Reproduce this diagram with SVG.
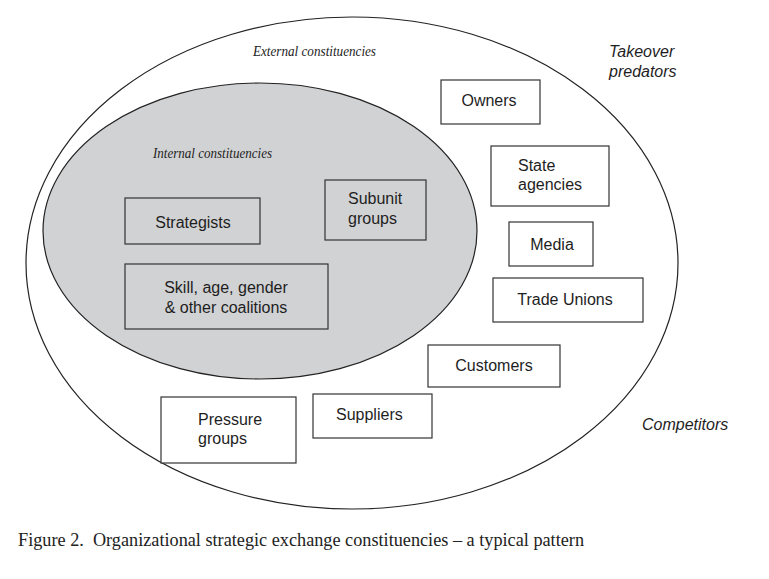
<svg xmlns="http://www.w3.org/2000/svg" width="769" height="579" viewBox="0 0 769 579">
<style>
.box{fill:#fff;stroke:#333;stroke-width:1.2}
.ibox{fill:#d1d2d4;stroke:#333;stroke-width:1.2}
.lbl{font-family:"Liberation Sans",Arial,sans-serif;font-size:16px;fill:#1e1e1e}
.c{text-anchor:middle}
.ital{font-family:"Liberation Sans",Arial,sans-serif;font-size:16px;font-style:italic;fill:#1e1e1e}
.serif{font-family:"Liberation Serif","Times New Roman",serif;font-style:italic;font-size:14px;fill:#222}
.cap{font-family:"Liberation Serif","Times New Roman",serif;font-size:18px;fill:#222}
</style>
<rect width="769" height="579" fill="#fff"/>
<g id="external">
<ellipse cx="352" cy="263" rx="326" ry="246" fill="#fff" stroke="#222" stroke-width="1.2"/>
<text class="serif" x="253" y="56" textLength="123" lengthAdjust="spacingAndGlyphs">External constituencies</text>
</g>
<g id="internal">
<ellipse cx="260" cy="231" rx="217" ry="148" fill="#d1d2d4" stroke="#222" stroke-width="1.2"/>
<text class="serif" x="153" y="158" textLength="119" lengthAdjust="spacingAndGlyphs">Internal constituencies</text>
</g>
<g id="strategists"><rect class="ibox" x="125" y="198" width="135" height="46"/><text class="lbl c" x="193" y="228">Strategists</text></g>
<g id="skill"><rect class="ibox" x="125" y="264" width="203" height="65"/><text class="lbl c" x="226" y="293">Skill, age, gender</text><text class="lbl c" x="226" y="313">&amp; other coalitions</text></g>
<g id="subunit"><rect class="ibox" x="325" y="180" width="101" height="60"/><text class="lbl" x="348" y="204">Subunit</text><text class="lbl" x="348" y="224">groups</text></g>
<g id="owners"><rect class="box" x="441" y="80" width="99" height="44"/><text class="lbl c" x="489" y="106">Owners</text></g>
<g id="state"><rect class="box" x="491" y="146" width="118" height="60"/><text class="lbl" x="518" y="171">State</text><text class="lbl" x="518" y="190">agencies</text></g>
<g id="media"><rect class="box" x="509" y="222" width="84" height="44"/><text class="lbl c" x="552" y="250">Media</text></g>
<g id="unions"><rect class="box" x="493" y="278" width="150" height="44"/><text class="lbl c" x="565" y="305">Trade Unions</text></g>
<g id="customers"><rect class="box" x="428" y="345" width="132" height="42"/><text class="lbl c" x="494" y="371">Customers</text></g>
<g id="pressure"><rect class="box" x="161" y="397" width="135" height="66"/><text class="lbl" x="198" y="425">Pressure</text><text class="lbl" x="198" y="444">groups</text></g>
<g id="suppliers"><rect class="box" x="313" y="394" width="119" height="44"/><text class="lbl" x="336" y="420">Suppliers</text></g>
<g id="takeover"><text class="ital" x="609" y="57">Takeover</text><text class="ital" x="609" y="77">predators</text></g>
<g id="competitors"><text class="ital" x="642" y="430">Competitors</text></g>
<g id="connectors"></g>
<text class="cap" x="18" y="546" textLength="566" lengthAdjust="spacingAndGlyphs" xml:space="preserve">Figure 2.  Organizational strategic exchange constituencies – a typical pattern</text>
</svg>
